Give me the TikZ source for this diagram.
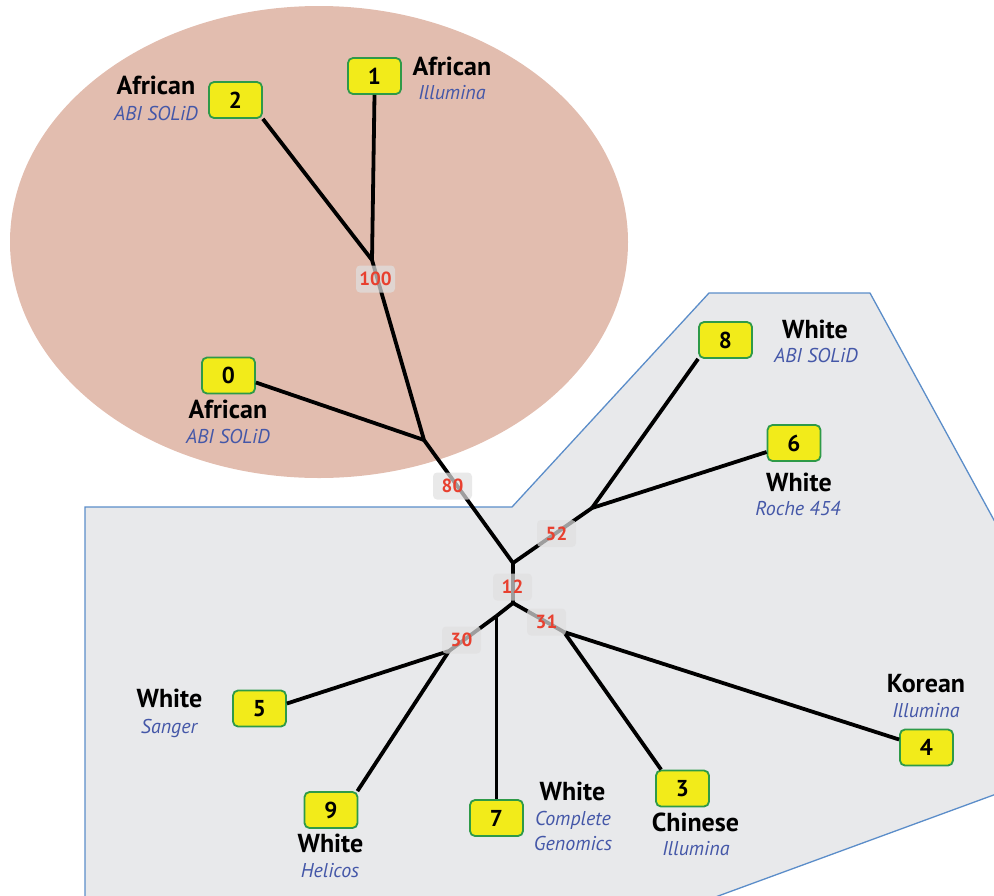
\documentclass[tikz,border=0pt]{standalone}
\usepackage{fontspec}
\setmainfont{PT Sans}
\definecolor{leafgreen}{HTML}{2E9A48}
\definecolor{leafyellow}{HTML}{F2EB1A}
\definecolor{techblue}{HTML}{4457A8}
\definecolor{bootgray}{HTML}{E0E0E0}
\definecolor{bootred}{HTML}{E8402F}
\definecolor{ellfill}{HTML}{E2BDAF}
\definecolor{polyfill}{HTML}{E8E9EB}
\definecolor{polyline}{HTML}{5B8DC9}
\begin{document}
\begin{tikzpicture}[x=1pt,y=-1pt,
  leaf/.style={draw=leafgreen, fill=leafyellow, line width=1.8pt, rounded corners=5pt,
    minimum width=53pt, minimum height=36pt, inner sep=0pt, font=\fontsize{23}{24}\selectfont\bfseries},
  pop/.style={font=\fontsize{26}{28}\selectfont\bfseries, anchor=base, inner sep=0pt},
  tech/.style={font=\fontsize{20}{22}\selectfont\itshape, text=techblue, anchor=base, inner sep=0pt},
  boot/.style={fill=bootgray, fill opacity=0.7, text opacity=1, text=bootred, rounded corners=4pt,
    minimum width=39pt, minimum height=27pt, inner sep=0pt, font=\fontsize{19}{20}\selectfont\bfseries},
  branch/.style={line width=3.8pt, line join=round}
]
\useasboundingbox (0,0) rectangle (994,895);
\clip (0,0) rectangle (994,895);
% regions
\fill[ellfill] (319,242) ellipse [x radius=309pt, y radius=236pt];
\filldraw[fill=polyfill, draw=polyline, line width=1.3pt]
  (85,921) -- (85,507) -- (512,507) -- (709,293) -- (870,293) -- (1119,749) -- (650,921) -- cycle;
% internal nodes
\coordinate (A) at (372,260);
\coordinate (B) at (424,440);
\coordinate (C) at (513,563);
\coordinate (D) at (513,603);
\coordinate (E) at (592,508);
\coordinate (F) at (564,632);
\coordinate (G) at (496.5,616);
\coordinate (H) at (449,651);
% leaves
\node[leaf] (n1) at (374.5,76) {1};
\node[leaf] (n2) at (235.5,100) {2};
\node[leaf] (n0) at (228.5,375.5) {0};
\node[leaf] (n8) at (725.5,340) {8};
\node[leaf] (n6) at (794,443) {6};
\node[leaf] (n5) at (259.5,708.5) {5};
\node[leaf] (n9) at (331,810) {9};
\node[leaf] (n7) at (496.5,818) {7};
\node[leaf] (n3) at (682.5,788.5) {3};
\node[leaf] (n4) at (926.5,747.5) {4};
% branches
\draw[branch] (A) -- (n1.south);
\draw[branch] (A) -- (n2.south east);
\draw[branch] (A) -- (B);
\draw[branch] (B) -- ([yshift=-7pt]n0.east);
\draw[branch] (B) -- (C);
\draw[branch] (C) -- (D);
\draw[branch] (C) -- (E);
\draw[branch] (E) -- (n8.south west);
\draw[branch] (E) -- ([yshift=-9pt]n6.west);
\draw[branch] (D) -- (G);
\draw[branch] (G) -- (n7.north);
\draw[branch] (G) -- (H);
\draw[branch] (H) -- ([yshift=5pt]n5.east);
\draw[branch] (H) -- ([xshift=-1pt]n9.north east);
\draw[branch] (D) -- (F);
\draw[branch] (F) -- ([xshift=6pt]n3.north west);
\draw[branch] (F) -- ([yshift=8pt]n4.west);
% bootstrap values
\node[boot] (b100) at (375.5,279) {100};
\node[boot] (b80) at (452.5,486) {80};
\node[boot] (b52) at (556.5,533.5) {52};
\node[boot] (b12) at (512.5,587) {12};
\node[boot] (b31) at (546.5,622) {31};
\node[boot] (b30) at (461.5,640) {30};
% labels
\node[pop] (p1) at (452,75) {African};
\node[tech] (t1) at (452,99) {Illumina};
\node[pop] (p2) at (156,94) {African};
\node[tech] (t2) at (156,120) {ABI SOLiD};
\node[pop] (p0) at (228,418) {African};
\node[tech] (t0) at (228,443) {ABI SOLiD};
\node[pop] (p8) at (815,338) {White};
\node[tech] (t8) at (816,362) {ABI SOLiD};
\node[pop] (p6) at (799,491) {White};
\node[tech] (t6) at (798,515) {Roche 454};
\node[pop] (p5) at (169.5,707) {White};
\node[tech] (t5) at (169,733) {Sanger};
\node[pop] (p9) at (330.5,852) {White};
\node[tech] (t9) at (330,877) {Helicos};
\node[pop] (p7) at (572.5,800) {White};
\node[tech] (t7a) at (573,825) {Complete};
\node[tech] (t7b) at (573,850) {Genomics};
\node[pop] (p3) at (695.5,831) {Chinese};
\node[tech] (t3) at (696,855) {Illumina};
\node[pop] (p4) at (926,692) {Korean};
\node[tech] (t4) at (926,717) {Illumina};
\end{tikzpicture}
\end{document}
